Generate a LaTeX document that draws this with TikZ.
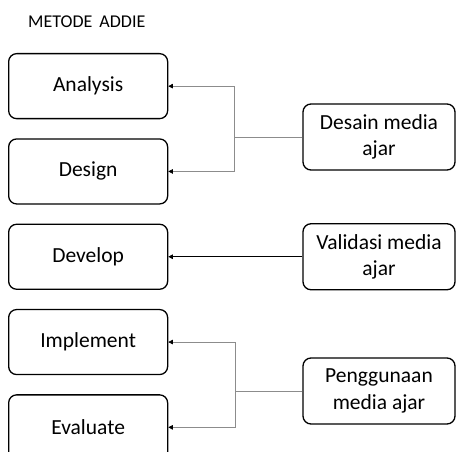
\documentclass[tikz,border=0pt]{standalone}
\usepackage{fontspec}
\setmainfont{Carlito}
\usepackage{tikz}
\usetikzlibrary{arrows.meta}
\usetikzlibrary{positioning}
\tikzset{>={Triangle[length=4.5pt,width=4.5pt,color=black]}}
\tikzset{addie-line/.style={line width=0.6pt, draw=gray!90}}
\tikzset{addie-node/.style={draw, line width=1.3pt, rounded corners=8pt, inner sep=0,
    minimum width=159pt, minimum height=65pt, font=\fontsize{21.5}{26.5}\selectfont}}
\tikzset{task-node/.style={addie-node, minimum width=152pt, minimum height=66pt, align=center}}

\begin{document}
\begin{tikzpicture}[x=1pt, y=-1pt]
    \useasboundingbox (0,0) rectangle (456,452);
    \clip (0,0) rectangle (456,452);

    \node[anchor=base west, inner sep=0, font=\fontsize{18}{21}\selectfont] (title) at (28,28) {METODE\, ADDIE};

    \node[addie-node, anchor=north west] (analysis) at (8,53) {Analysis};
    \node[addie-node, below=19pt of analysis] (design) {Design};
    \node[addie-node, below=19pt of design] (develop) {Develop};
    \node[addie-node, below=19pt of develop] (implement) {Implement};
    \node[addie-node, below=19pt of implement] (evaluate) {Evaluate};

    \node[task-node] (desain) at (379,137) {Desain media\\ajar};
    \node[task-node, anchor=west] (validasi) at (develop.east -| desain.west) {Validasi media\\ajar};
    \node[task-node] (penggunaan) at (379,391) {Penggunaan\\media ajar};

    \draw[addie-line] (desain.west) -- ++(-68,0) coordinate (split1);
    \draw[addie-line, ->] (split1) |- (analysis.east);
    \draw[addie-line, ->] (split1) |- (design.east);

    \draw[addie-line, draw=black, ->] (validasi.west) -- (develop.east);

    \draw[addie-line] (penggunaan.west) -- ++(-67,0) coordinate (split2);
    \draw[addie-line, ->] (split2) |- (implement.east);
    \draw[addie-line, ->] (split2) |- (evaluate.east);
\end{tikzpicture}
\end{document}
